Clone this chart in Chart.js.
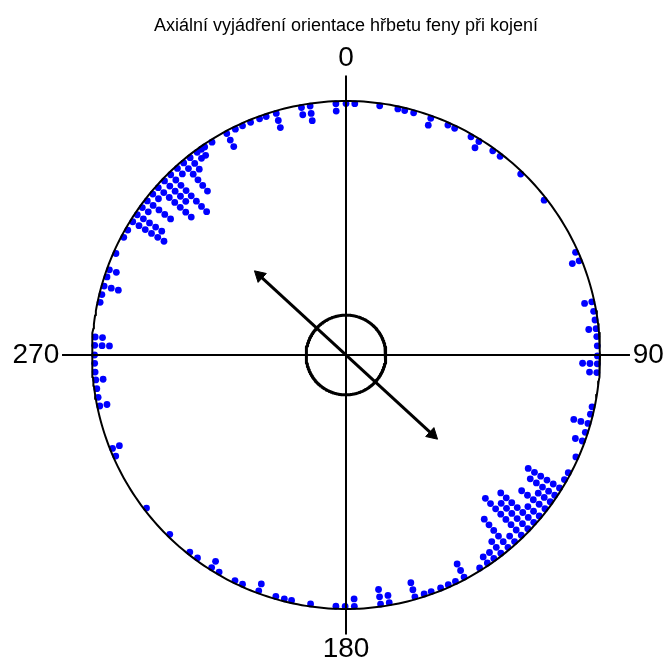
<!DOCTYPE html>
<html>
<head>
<meta charset="utf-8">
<script src="https://cdn.jsdelivr.net/npm/chart.js@4"></script>
<style>
  body { margin: 0; background: #fff; }
</style>
</head>
<body>
<canvas id="graf" width="666" height="669"></canvas>
<script>
// Úhly pozorování (stupně, od severu po směru hodin) a počet teček na každém úhlu
const uhly = [0, 2, 7.7, 11.9, 13.5, 15.6, 19.7, 23.9, 25.6, 29.8, 31.9, 35.7, 37.8, 44, 52,
  65.9, 68, 77.8, 80, 82, 84, 85.8, 87.9, 90.2, 92, 94, 101.9, 103.6, 105.8, 107.9, 110,
  113.9, 117.9, 119.7, 121.9, 123.9, 125.7, 127.7, 129.8, 131.7, 133.7, 135.8, 137.9, 139.9,
  142, 144, 145.8, 147.9, 152, 154.2, 156, 157.9, 160.2, 161.9, 164.1, 170.1, 172.1, 178.1,
  180.2, 182.3, 188.1, 192.5, 194.2, 196.2, 200.3, 204.3, 206.2, 210.3, 212.3, 216.2, 218.4,
  224.5, 232.5, 246.3, 248.2, 258.3, 260.3, 262.3, 264.3, 266.1, 268.1, 270, 272.2, 274.1,
  282.1, 283.9, 285.9, 288.1, 289.8, 293.8, 297.9, 299.8, 302, 303.9, 305.9, 307.8, 309.8,
  311.7, 313.8, 315.8, 317.9, 319.8, 321.7, 323.7, 324.9, 325.8, 327.8, 331.7, 333.9, 335.7,
  337.7, 339.9, 341.5, 343.9, 349.8, 351.8, 357.7];
const pocty = [1, 1, 1, 1, 1, 1, 2, 1, 1, 1, 2, 1, 1, 1, 1,
  1, 2, 2, 1, 1, 2, 1, 1, 1, 3, 2, 1, 1, 3, 1, 2,
  1, 1, 1, 6, 5, 3, 5, 3, 7, 6, 8, 2, 6,
  3, 2, 2, 1, 3, 1, 1, 1, 1, 1, 3, 2, 3, 2,
  1, 1, 1, 1, 1, 1, 2, 1, 1, 1, 2, 1, 1,
  1, 1, 1, 2, 2, 1, 1, 2, 1, 1, 1, 3, 2,
  1, 1, 3, 1, 2, 1, 1, 1, 6, 5, 2, 5, 2,
  7, 5, 8, 2, 6, 3, 2, 2, 1, 1, 3, 1, 1,
  1, 1, 1, 3, 2, 3, 2];

const popiskyOs = ['0', '90', '180', '270'];
const titulek = 'Axiální vyjádření orientace hřbetu feny při kojení';

// střední osa a délka vektoru, poloměr kružnice spolehlivosti
const stredniSmer = 132.6;
const delkaVektoru = 0.49;
const polomerSpolehlivosti = 0.157;

const rad = d => d * Math.PI / 180;
const naBod = (uhel, r) => ({ x: r * Math.sin(rad(uhel)), y: r * Math.cos(rad(uhel)) });

// tečky naskládané od obvodu dovnitř
const tecky = [];
uhly.forEach((u, i) => {
  for (let k = 0; k < pocty[i]; k++) tecky.push(naBod(u, 0.99 - k * 0.029));
});

function kruznice(r) {
  const body = [];
  for (let a = 0; a <= 360; a += 1) body.push(naBod(a, r));
  return body;
}

const hrot = 0.028;
const sipka = [naBod(stredniSmer + 180, delkaVektoru - hrot), naBod(stredniSmer, delkaVektoru - hrot)];

const pismo = "'Liberation Sans', Arial, sans-serif";

const popisky = {
  id: 'popisky',
  afterDraw(chart) {
    const ctx = chart.ctx;
    const sx = chart.scales.x, sy = chart.scales.y;
    ctx.save();
    ctx.fillStyle = '#000';
    ctx.font = '18px ' + pismo;
    ctx.textAlign = 'center';
    ctx.textBaseline = 'middle';
    ctx.fillText(titulek, sx.getPixelForValue(0), 26);
    ctx.font = '28px ' + pismo;
    ctx.fillText(popiskyOs[0], sx.getPixelForValue(0), sy.getPixelForValue(1.167));
    ctx.fillText(popiskyOs[2], sx.getPixelForValue(0), sy.getPixelForValue(-1.16));
    ctx.textAlign = 'left';
    ctx.fillText(popiskyOs[1], sx.getPixelForValue(1.129), sy.getPixelForValue(0));
    ctx.textAlign = 'right';
    ctx.fillText(popiskyOs[3], sx.getPixelForValue(-1.129), sy.getPixelForValue(0));
    ctx.restore();
  }
};

const cara = (data, sirka) => ({
  data: data, showLine: true, borderColor: '#000', borderWidth: sirka,
  borderJoinStyle: 'round', pointRadius: 0, fill: false, tension: 0
});

new Chart(document.getElementById('graf'), {
  type: 'scatter',
  data: {
    datasets: [
      cara([{ x: 0, y: -1.1 }, { x: 0, y: 1.1 }], 2),
      cara([{ x: -1.118, y: 0 }, { x: 1.118, y: 0 }], 2),
      cara(kruznice(1), 2),
      cara(kruznice(polomerSpolehlivosti), 3),
      {
        data: sipka, showLine: true, borderColor: '#000', borderWidth: 3,
        pointStyle: 'triangle', pointRadius: 7, pointRotation: [stredniSmer + 180, stredniSmer],
        pointBackgroundColor: '#000', pointBorderColor: '#000', pointBorderWidth: 1
      },
      {
        data: tecky, showLine: false, pointStyle: 'circle', pointRadius: 3.4,
        pointBackgroundColor: '#0000ff', pointBorderWidth: 0
      }
    ]
  },
  options: {
    responsive: false,
    animation: false,
    layout: { padding: { left: 41.2, right: 15.2, top: 50.2, bottom: 9.2 } },
    plugins: { legend: { display: false }, tooltip: { enabled: false } },
    scales: {
      x: { type: 'linear', min: -1.2, max: 1.2, display: false },
      y: { type: 'linear', min: -1.2, max: 1.2, display: false }
    }
  },
  plugins: [popisky]
});
</script>
</body>
</html>
